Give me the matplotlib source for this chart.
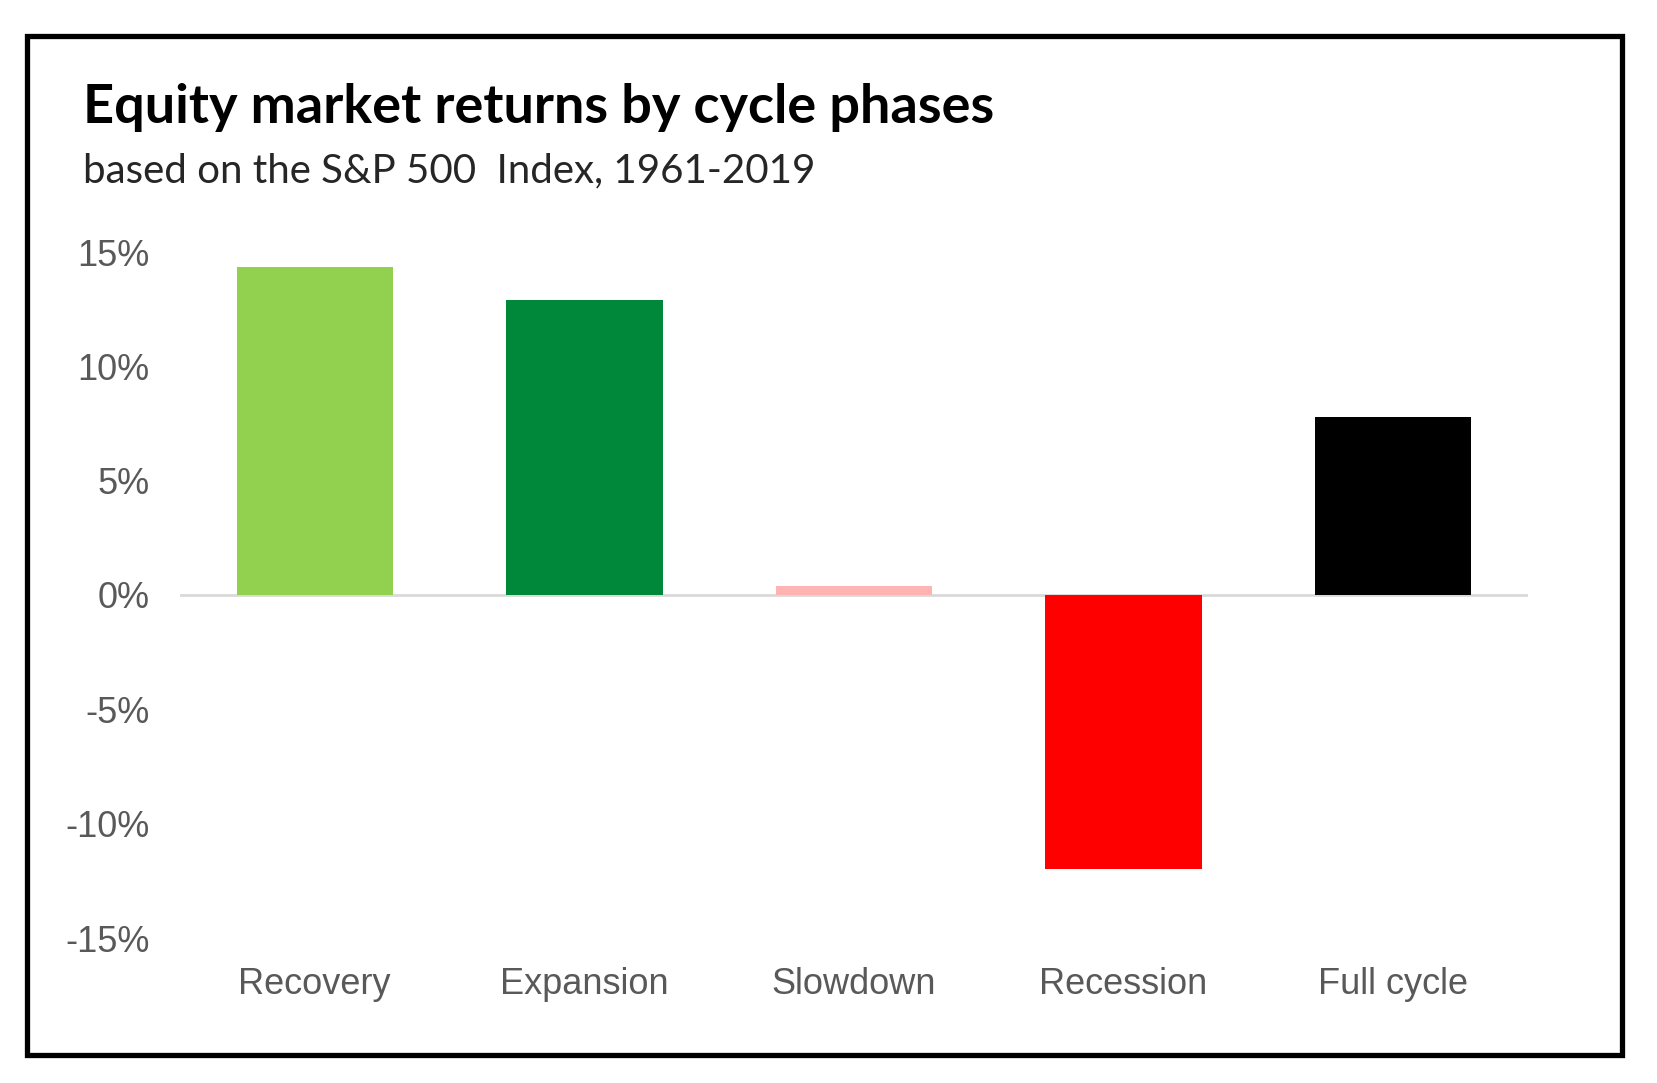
import matplotlib
matplotlib.use("Agg")
import matplotlib.pyplot as plt
from matplotlib.patches import Rectangle
from matplotlib.ticker import FuncFormatter

categories = ["Recovery", "Expansion", "Slowdown", "Recession", "Full cycle"]
returns = [14.35, 12.9, 0.4, -12.0, 7.8]
colors = ["#92D050", "#00883A", "#FFB3B3", "#FF0000", "#000000"]
yticks = [15, 10, 5, 0, -5, -10, -15]

W, H = 1657, 1083
fig = plt.figure(figsize=(W / 100, H / 100), dpi=100)
fig.patch.set_facecolor("white")

# outer frame
fig.add_artist(Rectangle((27 / W, 1 - 1055 / H), (1622 - 27) / W, (1055 - 36) / H,
                         transform=fig.transFigure, fill=False, edgecolor="black",
                         linewidth=3.8))

ax = fig.add_axes([180 / W, 1 - 938 / H, (1528 - 180) / W, (938 - 252) / H])
x = list(range(len(categories)))
ax.bar(x, returns, width=0.58, color=colors, zorder=2)
ax.axhline(0, color="#D9D9D9", linewidth=2, zorder=1)
ax.set_xlim(-0.5, 4.5)
ax.set_ylim(-15, 15)
ax.set_yticks(yticks)
ax.yaxis.set_major_formatter(FuncFormatter(lambda v, p: f"{int(v)}%"))
ax.set_xticks(x)
ax.set_xticklabels(categories)
for s in ax.spines.values():
    s.set_visible(False)
ax.tick_params(axis="both", length=0, labelsize=26, labelcolor="#595959")
ax.tick_params(axis="y", pad=22)
ax.tick_params(axis="x", pad=21)
for lab in ax.get_xticklabels() + ax.get_yticklabels():
    lab.set_fontfamily("Liberation Sans")

fig.text(83 / W, 1 - 123 / H, "Equity market returns by cycle phases",
         fontsize=39, fontweight="bold", family="Lato", color="#000000", va="baseline")
fig.text(83 / W, 1 - 182 / H, "based on the S&P 500  Index, 1961-2019",
         fontsize=29, family="Lato", color="#262626", va="baseline")

fig.savefig("out.png", dpi=100, facecolor="white")
